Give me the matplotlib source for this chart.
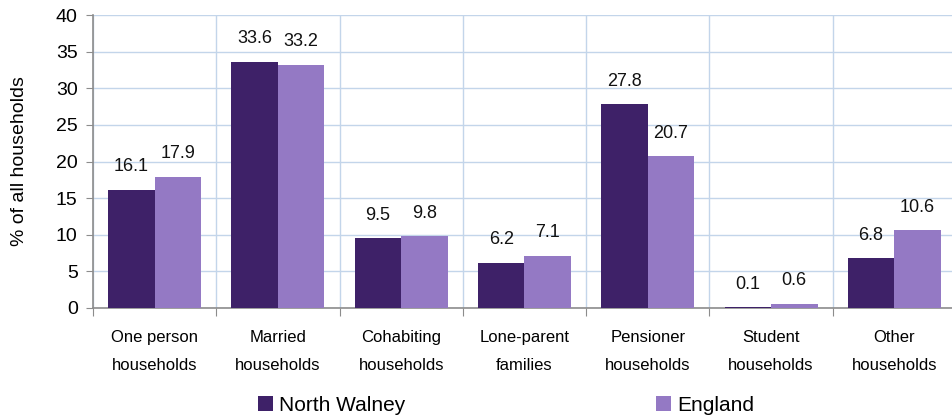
import numpy as np
import matplotlib.pyplot as plt

plt.rcParams['font.family'] = ['Liberation Sans', 'DejaVu Sans']

categories = ['One person\nhouseholds', 'Married\nhouseholds', 'Cohabiting\nhouseholds',
              'Lone-parent\nfamilies', 'Pensioner\nhouseholds', 'Student\nhouseholds',
              'Other\nhouseholds']
north_walney = [16.1, 33.6, 9.5, 6.2, 27.8, 0.1, 6.8]
england = [17.9, 33.2, 9.8, 7.1, 20.7, 0.6, 10.6]

dark = '#3E2168'
light = '#9479C4'
grid_col = '#C3D5EA'
spine_col = '#8C8C8C'

fig = plt.figure(figsize=(9.53, 4.2), dpi=100)
ax = fig.add_axes([93 / 953, 112 / 420, 863 / 953, 293 / 420])

x = np.arange(len(categories))
w = 0.377
b1 = ax.bar(x - w / 2, north_walney, w, color=dark, label='North Walney', zorder=3)
b2 = ax.bar(x + w / 2, england, w, color=light, label='England', zorder=3)

for bars, vals in [(b1, north_walney), (b2, england)]:
    for r, v in zip(bars, vals):
        ax.annotate(f'{v:.1f}', (r.get_x() + r.get_width() / 2, v),
                    xytext=(0, 10.5), textcoords='offset points',
                    ha='center', va='bottom', fontsize=13, color='#111111')

ax.set_xlim(-0.5, len(categories) - 0.5)
ax.set_ylim(0, 40)
ax.set_yticks(np.arange(0, 41, 5))
ax.tick_params(axis='y', labelsize=14, length=5, color=spine_col, pad=6)

# category boundaries carry the ticks and vertical grid
ax.set_xticks(np.arange(-0.5, len(categories) + 0.5, 1))
ax.set_xticklabels([])
ax.set_xticks(x, minor=True)
ax.set_xticklabels(categories, minor=True, fontsize=12, linespacing=2.05)
ax.tick_params(axis='x', which='major', length=6, color=spine_col)
ax.tick_params(axis='x', which='minor', length=0, pad=16)

ax.grid(True, which='major', color=grid_col, linewidth=1, zorder=0)
ax.set_axisbelow(True)
for s in ['top', 'right']:
    ax.spines[s].set_visible(False)
for s in ['left', 'bottom']:
    ax.spines[s].set_color(spine_col)
    ax.spines[s].set_linewidth(1.2)

ax.set_ylabel('% of all households', fontsize=14, labelpad=20)

fig.legend(handles=[b1, b2], loc='center', bbox_to_anchor=(0.531, 0.035), ncol=2,
           frameon=False, fontsize=15, handlelength=0.75, handleheight=0.75,
           handletextpad=0.3, columnspacing=12.0)

fig.savefig('out.png', dpi=100)
